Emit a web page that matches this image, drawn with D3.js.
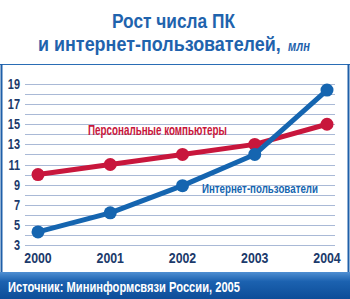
<!DOCTYPE html>
<html>
<head>
<meta charset="utf-8">
<script src="https://cdn.jsdelivr.net/npm/d3@7"></script>
<style>
  html, body { margin: 0; padding: 0; background: #fff; }
  svg { display: block; }
  text { font-family: "Liberation Sans Narrow", "Liberation Sans", sans-serif; font-weight: bold; }
</style>
</head>
<body>
<div id="chart"></div>
<script>
// data
const years = ["2000", "2001", "2002", "2003", "2004"];
const pcUsers = [10, 11, 12, 13, 15];
const netUsers = [4.3, 6.2, 8.9, 12, 18.4];
const yTicks = [3, 5, 7, 9, 11, 13, 15, 17, 19];
const gridValues = d3.range(3, 20);

const width = 350, height = 299;
const red = "#c8163c", blue = "#1565b0";

const svg = d3.select("#chart").append("svg")
  .attr("width", width)
  .attr("height", height);

// squeeze text horizontally (condensed look)
function squeeze(sel, f) {
  sel.each(function() {
    const w = this.getComputedTextLength();
    d3.select(this).attr("textLength", w * f).attr("lengthAdjust", "spacingAndGlyphs");
  });
}
// condensed label: shrink font to fit width, then stretch back vertically
function condensed(g, x0, y0, size, str, target, color, italic) {
  const t = g.append("text")
    .attr("transform", `translate(${x0},${y0})`)
    .attr("font-size", size).attr("fill", color).text(str);
  if (italic) t.attr("font-style", "italic");
  const w = t.node().getComputedTextLength();
  if (w > target) {
    const s = size * target / w;
    t.attr("font-size", s)
      .attr("transform", `translate(${x0},${y0}) scale(1,${Math.min(size / s, 1.4)})`);
  }
  return t;
}

// frame
svg.append("line").attr("x1", 0).attr("x2", width).attr("y1", 64.5).attr("y2", 64.5)
  .attr("stroke", "#2a6db5").attr("stroke-width", 1);
svg.append("line").attr("x1", 1.5).attr("x2", 1.5).attr("y1", 64).attr("y2", 272)
  .attr("stroke", "#1f5fa8").attr("stroke-width", 2);
svg.append("line").attr("x1", 348.5).attr("x2", 348.5).attr("y1", 64).attr("y2", 272)
  .attr("stroke", "#1f5fa8").attr("stroke-width", 2);

// title
svg.append("text").attr("x", 112).attr("y", 28)
  .attr("font-size", 21).attr("fill", "#1f63ad").text("Рост числа ПК")
  .attr("textLength", 123).attr("lengthAdjust", "spacingAndGlyphs");
condensed(svg, 38, 51, 21, "и интернет-пользователей,", 243, "#1f63ad");
condensed(svg, 288, 51, 14, "млн", 22, "#1f63ad", true);

// scales
const x = d3.scalePoint().domain(years).range([38, 327]);
const y = d3.scaleLinear().domain([3, 19]).range([245, 84]);

// grid
svg.append("g").selectAll("line").data(gridValues).join("line")
  .attr("x1", 25).attr("x2", 335)
  .attr("y1", d => Math.round(y(d)) + 0.5).attr("y2", d => Math.round(y(d)) + 0.5)
  .attr("stroke", "#a9b9d6").attr("stroke-width", 1);

// y axis labels
const yl = svg.append("g").selectAll("text").data(yTicks).join("text")
  .attr("x", 20).attr("y", d => y(d) + 5)
  .attr("text-anchor", "end").attr("font-size", 14).attr("fill", "#1b3a6b")
  .text(d => d);
squeeze(yl, 0.78);

// x axis labels
const xl = svg.append("g").selectAll("text").data(years).join("text")
  .attr("x", d => x(d)).attr("y", 263)
  .attr("text-anchor", "middle").attr("font-size", 14).attr("fill", "#1b3a6b")
  .text(d => d);
squeeze(xl, 0.88);

// series
const line = d3.line().x((d, i) => x(years[i])).y(d => y(d));
function drawSeries(vals, color) {
  svg.append("path").datum(vals).attr("d", line)
    .attr("fill", "none").attr("stroke", color).attr("stroke-width", 5)
    .attr("stroke-linejoin", "round");
  svg.append("g").selectAll("circle").data(vals).join("circle")
    .attr("cx", (d, i) => x(years[i])).attr("cy", d => y(d))
    .attr("r", 6.5).attr("fill", color);
}
drawSeries(pcUsers, red);
drawSeries(netUsers, blue);

// series labels
condensed(svg, 88, 135, 14, "Персональные компьютеры", 139, red);
condensed(svg, 202, 193, 14, "Интернет-пользователи", 116, blue);

// footer
const grad = svg.append("defs").append("linearGradient").attr("id", "foot")
  .attr("x1", 0).attr("x2", 0).attr("y1", 0).attr("y2", 1);
grad.append("stop").attr("offset", "0%").attr("stop-color", "#4f8fd2");
grad.append("stop").attr("offset", "35%").attr("stop-color", "#1c62b0");
grad.append("stop").attr("offset", "100%").attr("stop-color", "#0d4d98");
svg.append("rect").attr("x", 0).attr("y", 272).attr("width", width).attr("height", 27)
  .attr("fill", "url(#foot)");
svg.append("text").attr("x", 8).attr("y", 292).attr("font-size", 14).attr("fill", "#fff")
  .text("Источник: Мининформсвязи России, 2005")
  .attr("textLength", 232).attr("lengthAdjust", "spacingAndGlyphs");
</script>
</body>
</html>
